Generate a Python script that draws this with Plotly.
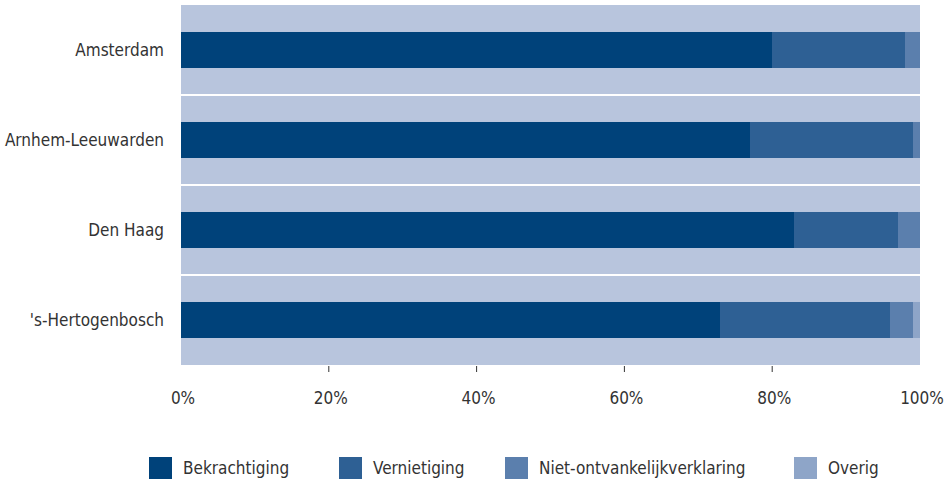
import plotly.graph_objects as go

# Court districts (top to bottom) and outcome shares in percent
districts = ["Amsterdam", "Arnhem-Leeuwarden", "Den Haag", "'s-Hertogenbosch"]
outcomes = ["Bekrachtiging", "Vernietiging", "Niet-ontvankelijkverklaring", "Overig"]
bekrachtiging = [80, 77, 83, 73]
vernietiging = [18, 22, 14, 23]
niet_ontvankelijk = [2, 1, 3, 3]
overig = [0, 0, 0, 1]

x_ticks = [0, 20, 40, 60, 80, 100]
x_tick_labels = ["0%", "20%", "40%", "60%", "80%", "100%"]
x_tick_marks = [20, 40, 60, 80]
x_range = [0, 100]

colors = ["#00427a", "#2e6094", "#5b7fad", "#8ea5c8"]
series = [bekrachtiging, vernietiging, niet_ontvankelijk, overig]

FONT = "DejaVu Sans Condensed, DejaVu Sans, Verdana, sans-serif"
TEXT = "#333333"

W, H = 951, 484
M_L, M_R, M_T, M_B = 181, 31, 5, 119
PLOT_W = W - M_L - M_R
PLOT_H = H - M_T - M_B


def px_to_paper_x(px):
    return (px - M_L) / PLOT_W


def px_to_paper_y(py):
    return (H - M_B - py) / PLOT_H


fig = go.Figure()
for name, values, color in zip(outcomes, series, colors):
    fig.add_trace(go.Bar(
        name=name,
        y=districts,
        x=values,
        orientation="h",
        marker=dict(color=color, line=dict(width=0)),
        showlegend=False,
        hovertemplate="%{y}: %{x}%<extra>" + name + "</extra>",
    ))

shapes = []
annotations = []

# Short tick marks under the plot at the inner tick positions
for v in x_tick_marks:
    xp = (v - x_range[0]) / (x_range[1] - x_range[0])
    shapes.append(dict(
        type="line", xref="paper", yref="paper",
        x0=xp, x1=xp,
        y0=px_to_paper_y(366), y1=px_to_paper_y(372),
        line=dict(color="#333333", width=1),
    ))

# Legend row below the chart: square swatch followed by its label
legend_left = [149, 339, 505, 794]
swatch_w, swatch_h, legend_mid = 23, 22, 468
for name, color, left in zip(outcomes, colors, legend_left):
    shapes.append(dict(
        type="rect", xref="paper", yref="paper",
        x0=px_to_paper_x(left), x1=px_to_paper_x(left + swatch_w),
        y0=px_to_paper_y(legend_mid + swatch_h / 2),
        y1=px_to_paper_y(legend_mid - swatch_h / 2),
        fillcolor=color, line=dict(width=0),
    ))
    annotations.append(dict(
        text=name, xref="paper", yref="paper",
        x=px_to_paper_x(left + swatch_w + 9), y=px_to_paper_y(legend_mid),
        xanchor="left", yanchor="middle", showarrow=False,
        font=dict(family=FONT, size=17, color=TEXT),
    ))

fig.update_layout(
    width=W,
    height=H,
    barmode="stack",
    bargap=0.61,
    paper_bgcolor="white",
    plot_bgcolor="#b8c5dd",
    margin=dict(l=M_L, r=M_R, t=M_T, b=M_B),
    font=dict(family=FONT, size=17, color=TEXT),
    xaxis=dict(
        range=x_range,
        tickvals=x_ticks,
        ticktext=x_tick_labels,
        ticks="",
        showgrid=False,
        zeroline=False,
        showline=False,
        fixedrange=True,
        tickfont=dict(size=17, color=TEXT),
        ticklabelstandoff=21,
        ticklabelshift=2,
    ),
    yaxis=dict(
        categoryorder="array",
        categoryarray=districts,
        autorange="reversed",
        tickson="boundaries",
        showgrid=True,
        gridcolor="white",
        gridwidth=2,
        ticks="",
        ticklabelstandoff=16,
        tickfont=dict(size=17, color=TEXT),
        zeroline=False,
        showline=False,
        fixedrange=True,
    ),
    shapes=shapes,
    annotations=annotations,
    showlegend=False,
)

fig.write_html("out.html")
